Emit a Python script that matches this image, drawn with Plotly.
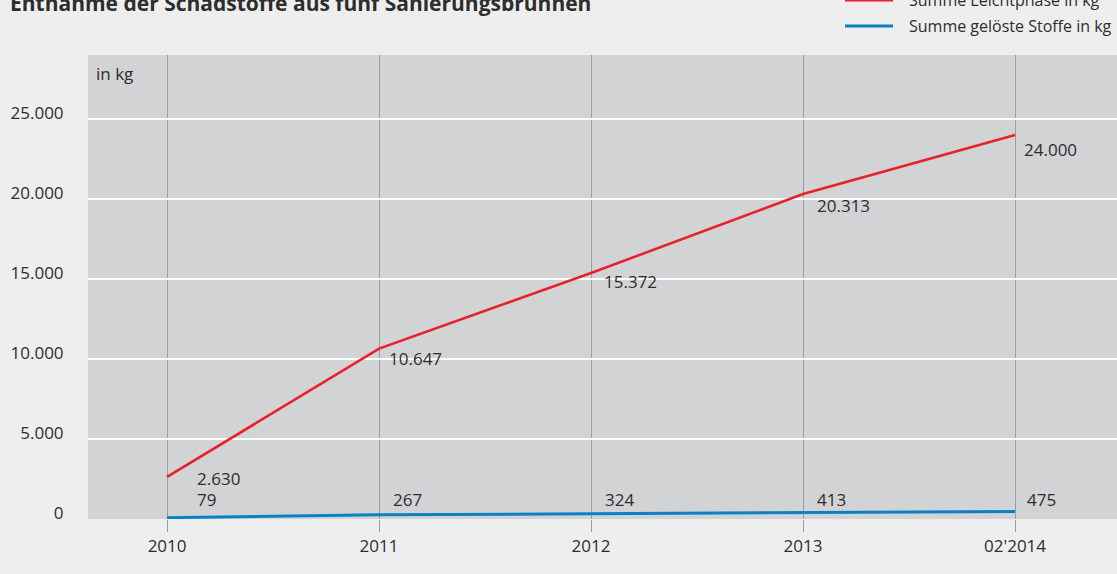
import plotly.graph_objects as go

# Chart values
years = ["2010", "2011", "2012", "2013", "02'2014"]
leichtphase = [2630, 10647, 15372, 20313, 24000]
geloeste = [79, 267, 324, 413, 475]
y_ticks = [0, 5000, 10000, 15000, 20000, 25000]
y_tick_text = ["0", "5.000", "10.000", "15.000", "20.000", "25.000"]

title_text = "Entnahme der Schadstoffe aus fünf Sanierungsbrunnen"
legend_names = ["Summe Leichtphase in kg", "Summe gelöste Stoffe in kg"]

RED = "#e8212b"
BLUE = "#0b80c4"
TXT = "#2d2d2d"
FONT = "Open Sans"

W, H = 1117, 574
L, R, T, B = 88, 0, 55, 55


def de_fmt(v):
    return f"{v:,}".replace(",", ".")


def px_x(px):
    return (px - L) / (W - L - R)


def px_y(py):
    return (H - B - py) / (H - T - B)


fig = go.Figure()
fig.add_trace(go.Scatter(x=years, y=leichtphase, mode="lines", name=legend_names[0],
                         line=dict(color=RED, width=2.6), showlegend=False))
fig.add_trace(go.Scatter(x=years, y=geloeste, mode="lines", name=legend_names[1],
                         line=dict(color=BLUE, width=3), showlegend=False))

annotations = []
# value labels of the red series (offsets in px: right, down)
red_off = [(28, 2), (8, 10), (11, 8), (12, 12), (7, 14)]
for i, v in enumerate(leichtphase):
    dx, dy = red_off[i]
    annotations.append(dict(x=i, y=v, text=de_fmt(v), showarrow=False,
                            xanchor="left", yanchor="middle", xshift=dx, yshift=-dy,
                            font=dict(family=FONT, size=17, color=TXT)))
# value labels of the blue series, sitting above the line
blue_dx = [28, 12, 12, 12, 10]
for i, v in enumerate(geloeste):
    annotations.append(dict(x=i, y=0, text=de_fmt(v), showarrow=False,
                            xanchor="left", yanchor="middle", xshift=blue_dx[i], yshift=20,
                            font=dict(family=FONT, size=17, color=TXT)))

# unit label
annotations.append(dict(x=0, y=1, xref="paper", yref="paper", text="in kg", showarrow=False,
                        xanchor="left", yanchor="middle", xshift=6, yshift=-18,
                        font=dict(family=FONT, size=17, color=TXT)))
# title
annotations.append(dict(x=px_x(8), y=px_y(3), xref="paper", yref="paper",
                        text="<b>" + title_text + "</b>", showarrow=False,
                        xanchor="left", yanchor="middle",
                        font=dict(family=FONT, size=21, color=TXT)))

# legend drawn as line samples + labels
shapes = []
for j, (name, col) in enumerate(zip(legend_names, [RED, BLUE])):
    ly = 0 + 26 * j
    shapes.append(dict(type="line", xref="paper", yref="paper",
                       x0=px_x(845), x1=px_x(893), y0=px_y(ly), y1=px_y(ly),
                       line=dict(color=col, width=3)))
    annotations.append(dict(x=px_x(907), y=px_y(ly), xref="paper", yref="paper",
                            text=name, showarrow=False, xanchor="left", yanchor="middle",
                            font=dict(family=FONT, size=16, color=TXT)))

fig.update_layout(
    width=W, height=H,
    margin=dict(l=L, r=R, t=T, b=B),
    paper_bgcolor="#eeeeee",
    plot_bgcolor="#d2d3d5",
    annotations=annotations,
    shapes=shapes,
    showlegend=False,
)
fig.update_xaxes(
    type="category", range=[-0.373, 4.481],
    showgrid=True, gridcolor="#9c9c9c", gridwidth=1,
    ticks="outside", ticklen=12, tickcolor="#9c9c9c", tickwidth=1,
    tickfont=dict(family=FONT, size=17, color=TXT),
    showline=False, zeroline=False, fixedrange=True,
)
fig.update_yaxes(
    range=[0, 29000], tickvals=y_ticks, ticktext=y_tick_text,
    showgrid=True, gridcolor="#ffffff", gridwidth=2,
    ticks="outside", ticklen=20, tickcolor="rgba(0,0,0,0)",
    ticklabelshift=-6,
    tickfont=dict(family=FONT, size=17, color=TXT),
    showline=False, zeroline=False, fixedrange=True,
)

fig.write_html("out.html")
